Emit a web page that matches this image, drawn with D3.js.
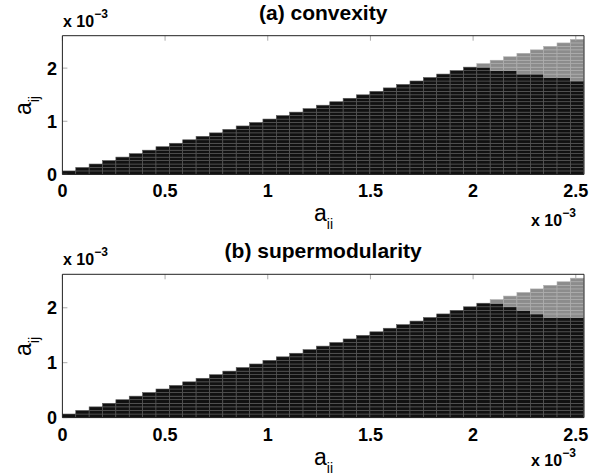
<!DOCTYPE html>
<html>
<head>
<meta charset="utf-8">
<script src="https://cdn.jsdelivr.net/npm/d3@7"></script>
<style>
  body { margin: 0; background: #fff; }
  svg text { font-family: "Liberation Sans", Arial, sans-serif; }
  .tick-label { font-size: 18px; font-weight: bold; }
</style>
</head>
<body>
<div id="chart"></div>
<script>
// grid columns along a_ii (cell width in data units) and rows along a_ij
const cellSize = 0.0651e-3
const xTicks = [0, 0.5e-3, 1e-3, 1.5e-3, 2e-3, 2.5e-3]
const xTickLabels = ["0", "0.5", "1", "1.5", "2", "2.5"]
const yTicks = [0, 1e-3, 2e-3]
const yTickLabels = ["0", "1", "2"]

// rows filled in each column (feasible region, y <= x)
const totalRows = [1, 2, 3, 4, 5, 6, 7, 8, 9, 10, 11, 12, 13, 14, 15, 16, 17, 18, 19, 20,
                   21, 22, 23, 24, 25, 26, 27, 28, 29, 30, 31, 32, 33, 34, 35, 36, 37, 38, 39]
// rows where the property holds (black), rest gray
const blackRowsA = [1, 2, 3, 4, 5, 6, 7, 8, 9, 10, 11, 12, 13, 14, 15, 16, 17, 18, 19, 20,
                    21, 22, 23, 24, 25, 26, 27, 28, 29, 30, 31, 31, 30, 30, 29, 29, 28, 28, 27]
const blackRowsB = [1, 2, 3, 4, 5, 6, 7, 8, 9, 10, 11, 12, 13, 14, 15, 16, 17, 18, 19, 20,
                    21, 22, 23, 24, 25, 26, 27, 28, 29, 30, 31, 32, 32, 31, 30, 29, 28, 28, 28]

const width = 589
const height = 476
const margin = { left: 62.4, right: 5 }

const panels = [
    { title: "(a) convexity", top: 35.7, bottom: 174.4, black: blackRowsA, expOffset: 52 },
    { title: "(b) supermodularity", top: 274.3, bottom: 417.6, black: blackRowsB, expOffset: 48 }
]

const svg = d3.select("div#chart").append("svg")
    .attr("width", width)
    .attr("height", height)

const xDomain = [0, 2.54e-3]
const yDomain = [0, 2.61e-3]

panels.forEach(p => {
    const scaleX = d3.scaleLinear().domain(xDomain).range([margin.left, width - margin.right])
    const scaleY = d3.scaleLinear().domain(yDomain).range([p.bottom, p.top])

    const g = svg.append("g")

    // celdas: una por fila de cada columna
    const cells = []
    totalRows.forEach((n, k) => {
        for (let r = 0; r < n; r++) {
            cells.push({ k: k, r: r, black: r < p.black[k] })
        }
    })

    g.selectAll("rect.cell").data(cells).enter().append("rect")
        .attr("class", "cell")
        .attr("x", d => scaleX(d.k * cellSize))
        .attr("y", d => scaleY((d.r + 1) * cellSize))
        .attr("width", scaleX(cellSize) - scaleX(0))
        .attr("height", scaleY(0) - scaleY(cellSize))
        .attr("fill", d => d.black ? "#111" : "#8c8c8c")
        .attr("stroke", d => d.black ? "#5a5a5a" : "#b0b0b0")
        .attr("stroke-width", 0.6)

    // ticks hacia dentro
    const tickLen = 5
    g.selectAll("line.xt").data(xTicks).enter().append("line")
        .attr("x1", d => scaleX(d)).attr("x2", d => scaleX(d))
        .attr("y1", p.top).attr("y2", p.top + tickLen)
        .attr("stroke", "#aaa")
    g.selectAll("line.yt").data(yTicks).enter().append("line")
        .attr("x1", margin.left).attr("x2", margin.left + tickLen)
        .attr("y1", d => scaleY(d)).attr("y2", d => scaleY(d))
        .attr("stroke", "#aaa")

    // caja
    g.append("path")
        .attr("d", `M${margin.left},${p.top}H${width - margin.right}V${p.bottom}H${margin.left}Z`)
        .attr("fill", "none")
        .attr("stroke", "#222")
        .attr("stroke-width", 1)

    // etiquetas de ticks
    g.selectAll("text.xl").data(xTicks).enter().append("text")
        .attr("class", "tick-label")
        .attr("x", d => scaleX(d))
        .attr("y", p.bottom + 23)
        .attr("text-anchor", "middle")
        .text((d, i) => xTickLabels[i])
    g.selectAll("text.yl").data(yTicks).enter().append("text")
        .attr("class", "tick-label")
        .attr("x", 57)
        .attr("y", d => scaleY(d) + 6.5)
        .attr("text-anchor", "end")
        .text((d, i) => yTickLabels[i])

    // titulo
    g.append("text").text(p.title)
        .attr("x", (margin.left + width - margin.right) / 2)
        .attr("y", p.top - 16)
        .attr("text-anchor", "middle")
        .attr("font-size", 21)
        .attr("font-weight", "bold")

    // exponentes
    const expTop = g.append("text").attr("x", 63).attr("y", p.top - 9)
        .attr("font-size", 16).attr("font-weight", "bold")
    expTop.append("tspan").text("x 10")
    expTop.append("tspan").text("\u22123").attr("font-size", 12).attr("dy", -9)

    const expBot = g.append("text").attr("x", 531).attr("y", p.bottom + p.expOffset)
        .attr("font-size", 16).attr("font-weight", "bold")
    expBot.append("tspan").text("x 10")
    expBot.append("tspan").text("\u22123").attr("font-size", 12).attr("dy", -9)

    // etiquetas de ejes
    const xl = g.append("text").attr("x", 314).attr("y", p.bottom + 47)
        .attr("font-size", 23)
    xl.append("tspan").text("a")
    xl.append("tspan").text("ii").attr("font-size", 14).attr("dy", 8)

    const yl = g.append("text")
        .attr("transform", `translate(31, ${(p.top + p.bottom) / 2 + 10}) rotate(-90)`)
        .attr("font-size", 23)
    yl.append("tspan").text("a")
    yl.append("tspan").text("ij").attr("font-size", 14).attr("dy", 8)
})
</script>
</body>
</html>
